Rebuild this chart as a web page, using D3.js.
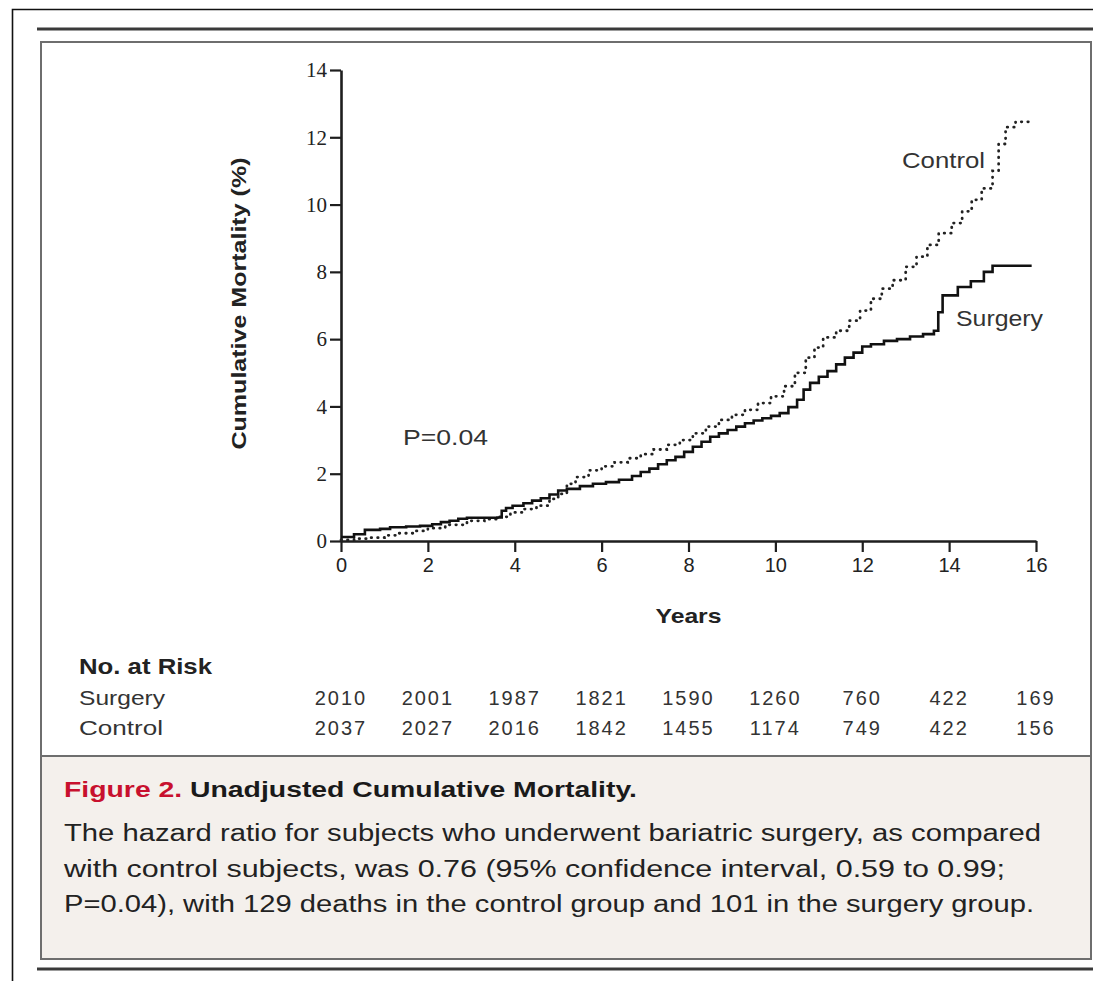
<!DOCTYPE html>
<html>
<head>
<meta charset="utf-8">
<script src="https://cdn.jsdelivr.net/npm/d3@7"></script>
<style>
  html, body { margin: 0; padding: 0; background: #fff; }
  svg { display: block; }
</style>
</head>
<body>
<svg id="chart" width="1093" height="981"></svg>
<script>
// Kaplan-Meier style cumulative mortality (%) by follow-up year
const surgeryYears = [0,0.3,0.55,0.9,1.13,1.5,1.82,2.1,2.3,2.5,2.7,2.9,3.6,3.7,3.8,3.95,4.2,4.4,4.6,4.8,5.0,5.2,5.5,5.8,6.1,6.4,6.7,6.9,7.1,7.3,7.5,7.7,7.9,8.1,8.3,8.5,8.7,8.9,9.1,9.3,9.5,9.7,9.9,10.1,10.3,10.5,10.65,10.8,11.0,11.2,11.4,11.6,11.8,12.0,12.2,12.5,12.8,13.1,13.4,13.65,13.75,13.85,14.2,14.5,14.8,15.0,15.9];
const surgeryMortality = [0.12,0.2,0.33,0.36,0.41,0.43,0.45,0.5,0.56,0.6,0.66,0.69,0.7,0.9,0.98,1.05,1.12,1.2,1.27,1.38,1.5,1.55,1.63,1.7,1.75,1.82,1.93,2.05,2.15,2.28,2.4,2.5,2.65,2.8,2.95,3.1,3.2,3.3,3.4,3.5,3.58,3.65,3.72,3.8,3.98,4.2,4.5,4.7,4.88,5.05,5.25,5.45,5.6,5.78,5.85,5.95,6.0,6.08,6.15,6.25,6.8,7.3,7.55,7.72,8.0,8.18,8.18];

const controlYears = [0,0.3,0.6,1.0,1.3,1.7,2.0,2.4,2.9,3.3,3.6,3.9,4.2,4.5,4.8,5.0,5.2,5.4,5.7,6.0,6.3,6.6,6.9,7.2,7.5,7.8,8.1,8.4,8.7,9.0,9.3,9.6,9.9,10.2,10.45,10.7,10.9,11.1,11.4,11.7,11.95,12.2,12.45,12.7,13.0,13.25,13.5,13.76,14.06,14.3,14.52,14.75,15.0,15.14,15.3,15.53,15.85];
const controlMortality = [0.03,0.07,0.1,0.17,0.23,0.3,0.38,0.48,0.6,0.65,0.72,0.85,0.95,1.05,1.25,1.4,1.7,1.9,2.1,2.22,2.34,2.46,2.58,2.72,2.86,3.0,3.2,3.4,3.6,3.75,3.9,4.1,4.3,4.6,5.0,5.45,5.75,6.05,6.25,6.55,6.85,7.2,7.5,7.75,8.15,8.45,8.8,9.15,9.45,9.8,10.14,10.48,11.0,11.8,12.3,12.46,12.5];

// Axis ticks
const yearTicks = [0,2,4,6,8,10,12,14,16];
const mortalityTicks = [0,2,4,6,8,10,12,14];

// Number at risk, one value per year tick
const riskGroups = ["Surgery", "Control"];
const riskSurgery = [2010,2001,1987,1821,1590,1260,760,422,169];
const riskControl = [2037,2027,2016,1842,1455,1174,749,422,156];

// Caption
const figureLabel = "Figure 2.";
const figureTitle = " Unadjusted Cumulative Mortality.";
const captionLines = [
  "The hazard ratio for subjects who underwent bariatric surgery, as compared",
  "with control subjects, was 0.76 (95% confidence interval, 0.59 to 0.99;",
  "P=0.04), with 129 deaths in the control group and 101 in the surgery group."
];
const captionWidths = [977, 941, 970];

const svg = d3.select("#chart");
const ink = "#1e1e1e";

// ---- page frame ----
const frame = svg.append("g");
frame.append("path").attr("d", "M12.5,981 V9.5 H1093").attr("fill", "none").attr("stroke", "#111").attr("stroke-width", 1.6);
frame.append("line").attr("x1", 37).attr("x2", 1093).attr("y1", 29).attr("y2", 29).attr("stroke", "#3a3a3a").attr("stroke-width", 3);
frame.append("rect").attr("x", 41).attr("y", 756).attr("width", 1050).attr("height", 203).attr("fill", "#f4f0ec");
frame.append("rect").attr("x", 41).attr("y", 42).attr("width", 1050).attr("height", 917).attr("fill", "none").attr("stroke", "#6e6e6e").attr("stroke-width", 2);
frame.append("line").attr("x1", 41).attr("x2", 1091).attr("y1", 756).attr("y2", 756).attr("stroke", "#6e6e6e").attr("stroke-width", 2);
frame.append("line").attr("x1", 37).attr("x2", 1093).attr("y1", 969).attr("y2", 969).attr("stroke", "#3a3a3a").attr("stroke-width", 3);

// ---- plot ----
const x = d3.scaleLinear().domain([0, 16]).range([341, 1036]);
const y = d3.scaleLinear().domain([0, 14]).range([541, 70]);

const xAxis = svg.append("g")
  .attr("transform", `translate(0,${y(0)})`)
  .call(d3.axisBottom(x).tickValues(yearTicks).tickSize(11).tickSizeOuter(0).tickPadding(6).tickFormat(d3.format("d")));
xAxis.select(".domain").attr("stroke", ink).attr("stroke-width", 2.6);
xAxis.selectAll(".tick line").attr("stroke", ink).attr("stroke-width", 2.2);
xAxis.selectAll(".tick text").attr("fill", "#222").attr("font-family", "Liberation Sans, Arial, sans-serif").attr("font-size", 20);

const yAxis = svg.append("g")
  .attr("transform", `translate(${x(0)},0)`)
  .call(d3.axisLeft(y).tickValues(mortalityTicks).tickSize(11).tickSizeOuter(0).tickPadding(3).tickFormat(d3.format("d")));
yAxis.select(".domain").attr("stroke", ink).attr("stroke-width", 2.6);
yAxis.selectAll(".tick line").attr("stroke", ink).attr("stroke-width", 2.2);
yAxis.selectAll(".tick text").attr("fill", "#222").attr("font-family", "Liberation Serif, Times New Roman, serif").attr("font-size", 21);

const line = d3.line().x(d => x(d[0])).y(d => y(d[1])).curve(d3.curveStepAfter);

const controlData = controlYears.map((t, i) => [t, controlMortality[i]]);
const surgeryData = surgeryYears.map((t, i) => [t, surgeryMortality[i]]);

svg.append("path").datum(controlData).attr("d", line)
  .attr("fill", "none").attr("stroke", "#222").attr("stroke-width", 2.8)
  .attr("stroke-linecap", "round").attr("stroke-dasharray", "0.5,6");

svg.append("path").datum(surgeryData).attr("d", line)
  .attr("fill", "none").attr("stroke", "#111").attr("stroke-width", 2.6)
  .attr("stroke-linejoin", "miter");

// series labels and test result
const labelFont = "Liberation Sans, Arial, sans-serif";
function label(tx, ty, str, width, size, extra) {
  const t = svg.append("text").attr("x", tx).attr("y", ty).text(str)
    .attr("font-family", labelFont).attr("font-size", size).attr("fill", "#333")
    .attr("textLength", width).attr("lengthAdjust", "spacingAndGlyphs");
  if (extra) extra(t);
  return t;
}
label(902, 168, "Control", 83, 22);
label(956, 326, "Surgery", 87, 22);
label(403, 445, "P=0.04", 85, 22);

// axis titles
svg.append("text")
  .attr("transform", `translate(246,${(y(0) + y(14)) / 2 - 2}) rotate(-90)`)
  .attr("text-anchor", "middle")
  .attr("font-family", labelFont).attr("font-weight", "bold").attr("font-size", 21).attr("fill", "#222")
  .attr("textLength", 292).attr("lengthAdjust", "spacingAndGlyphs")
  .text("Cumulative Mortality (%)");
svg.append("text")
  .attr("x", x(8)).attr("y", 623).attr("text-anchor", "middle")
  .attr("font-family", labelFont).attr("font-weight", "bold").attr("font-size", 21).attr("fill", "#222")
  .attr("textLength", 66).attr("lengthAdjust", "spacingAndGlyphs")
  .text("Years");

// ---- number at risk table ----
svg.append("text").attr("x", 79).attr("y", 674).text("No. at Risk")
  .attr("font-family", labelFont).attr("font-weight", "bold").attr("font-size", 22).attr("fill", "#222")
  .attr("textLength", 133).attr("lengthAdjust", "spacingAndGlyphs");

const riskRows = [riskSurgery, riskControl];
const groupWidths = [86, 84];
riskRows.forEach((row, r) => {
  const yy = 705 + r * 30;
  svg.append("text").attr("x", 79).attr("y", yy).text(riskGroups[r])
    .attr("font-family", labelFont).attr("font-size", 20).attr("fill", "#333")
    .attr("textLength", groupWidths[r]).attr("lengthAdjust", "spacingAndGlyphs");
  svg.append("g").selectAll("text").data(row).join("text")
    .attr("x", (d, i) => x(yearTicks[i]))
    .attr("y", yy)
    .attr("text-anchor", "middle")
    .attr("font-family", labelFont).attr("font-size", 20).attr("fill", "#333")
    .attr("letter-spacing", 2)
    .text(d => d);
});

// ---- caption ----
const capFont = "Liberation Sans, Arial, sans-serif";
const title = svg.append("text").attr("x", 64).attr("y", 797)
  .attr("font-family", capFont).attr("font-weight", "bold").attr("font-size", 22)
  .attr("textLength", 573).attr("lengthAdjust", "spacingAndGlyphs");
title.append("tspan").attr("fill", "#c8102e").text(figureLabel);
title.append("tspan").attr("fill", "#1a1a1a").text(figureTitle);

svg.append("g").selectAll("text").data(captionLines).join("text")
  .attr("x", 64)
  .attr("y", (d, i) => 841 + i * 35.5)
  .attr("font-family", capFont).attr("font-size", 23).attr("fill", "#222")
  .attr("textLength", (d, i) => captionWidths[i]).attr("lengthAdjust", "spacingAndGlyphs")
  .text(d => d);
</script>
</body>
</html>
